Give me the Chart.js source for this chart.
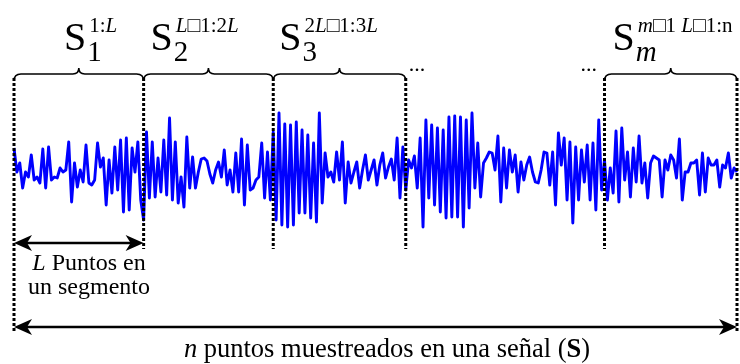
<!DOCTYPE html>
<html>
<head>
<meta charset="utf-8">
<script src="https://cdn.jsdelivr.net/npm/chart.js@4/dist/chart.umd.min.js"></script>
<style>
  html, body { margin: 0; padding: 0; background: #fff; }
  #wrap { width: 740px; height: 364px; }
</style>
</head>
<body>
<div id="wrap"><canvas id="senal"></canvas></div>
<script>
// amplitud de cada muestra de la señal S
var muestras = [
    24, 0, 9, -16, 0, -5, 17, -8, -5, -11, 23, -16, 25, -8, -5, -6, 4, 0, 2, 30,
    -30, 9, -15, 2, -10, 27, -11, -13, -8, 29, 5, 14, -33, 12, -21, 25, -18, 32, -40, 34,
    -38, 24, 0, 30, -28, -48, 40, -26, 30, -25, 14, -20, 32, -23, 54, -28, 30, -31, -5, -35,
    35, -16, 15, -16, 0, 13, 14, 11, -2, -11, 2, 10, -5, 22, -13, 2, -20, 19, -20, 33, -33, 27,
    -18, -16, -8, -5, 29, -26, 20, -28, 40, -48, 59, -53, 48, -55, 47, -53, 50, -41, 42, -41,
    37, -46, 29, -50, 59, -31, 19, -5, 0, -10, 20, -8, 30, -31, 10, -11, 0, 10, -16, 2, 17, -8, 2, 12,
    -13, 7, 19, -6, 5, 13, -8, 34, -26, 25, -18, 12, 4, 16, -16, 34, -55, 52, -26, 47,
    -33, 44, -40, 42, -46, 55, -45, 56, -45, 55, -55, 52, -36, 59, -16, 29, -25, 9, 14, 20, 19, 2, 36, -30, 24,
    -16, 22, 0, 17, -20, 10, -8, 7, 15, 0, -10, -11, 2, 20, 19, -13, 20, -33, 39, 7,
    34, -28, 30, -51, 25, -28, 22, -10, 27, -28, 29, -38, 52, -18, 12, -28, 4, -21, 41, -30, 44, -8, 20,
    -25, 24, -10, 36, -11, 9, -26, 9, 16, 14, 12, -25, 12, 2, 17, 12, -6, 33, -28, 0,
    0, 9, 9, 12, -23, 19, -20, 14, 7, 7, 12, -15, 7, 4, 19, -6, 4, 0
];

// índices de muestra que separan los segmentos
var limites = [0, 45, 90, 136, 205, 251];

// segmentos que llevan llave y rótulo
var conLlave = [0, 1, 2, 4];

// rótulos: trozos [texto, estilo]
var subindices = [
    [['1', '']],
    [['2', '']],
    [['3', '']],
    [['m', 'italic ']]
];
var superindices = [
    [['1:', ''], ['L', 'italic ']],
    [['L', 'italic '], ['\u25A1', ''], ['1:2', ''], ['L', 'italic ']],
    [['2', ''], ['L', 'italic '], ['\u25A1', ''], ['1:3', ''], ['L', 'italic ']],
    [['m', 'italic '], ['\u25A1', ''], ['1 ', ''], ['L', 'italic '], ['\u25A1', ''], ['1:n', '']]
];
var textoSegmento = [['L', 'italic '], [' Puntos en', '']];
var textoSegmento2 = [['un segmento', '']];
var textoTotal = [['n', 'italic '], [' puntos muestreados en una se\u00f1al (', ''], ['S', 'bold '], [')', '']];

var FUENTE = '"Liberation Serif", "Times New Roman", serif';

function ancho(ctx, trozos, tam) {
    var w = 0;
    trozos.forEach(function (t) {
        ctx.font = t[1] + tam + 'px ' + FUENTE;
        w += ctx.measureText(t[0]).width;
    });
    return w;
}

function escribir(ctx, trozos, x, y, tam) {
    trozos.forEach(function (t) {
        ctx.font = t[1] + tam + 'px ' + FUENTE;
        ctx.fillText(t[0], x, y);
        x += ctx.measureText(t[0]).width;
    });
    return x;
}

function llave(ctx, xa, xb, y) {
    var xc = (xa + xb) / 2;
    ctx.beginPath();
    ctx.moveTo(xa, y + 7);
    ctx.quadraticCurveTo(xa, y, xa + 7, y);
    ctx.lineTo(xc - 6, y);
    ctx.quadraticCurveTo(xc, y, xc, y - 6);
    ctx.quadraticCurveTo(xc, y, xc + 6, y);
    ctx.lineTo(xb - 7, y);
    ctx.quadraticCurveTo(xb, y, xb, y + 7);
    ctx.stroke();
}

function punta(ctx, x, y, dir) {
    ctx.beginPath();
    ctx.moveTo(x, y);
    ctx.lineTo(x - dir * 18, y - 8);
    ctx.lineTo(x - dir * 13, y);
    ctx.lineTo(x - dir * 18, y + 8);
    ctx.closePath();
    ctx.fill();
}

function flecha(ctx, xa, xb, y, doble) {
    ctx.beginPath();
    ctx.moveTo(xa + (doble ? 12 : 0), y);
    ctx.lineTo(xb - 12, y);
    ctx.stroke();
    punta(ctx, xb, y, 1);
    if (doble) punta(ctx, xa, y, -1);
}

var anotaciones = {
    id: 'anotaciones',
    afterDatasetsDraw: function (chart) {
        var ctx = chart.ctx;
        var xs = chart.scales.x;
        var px = limites.map(function (i) { return xs.getPixelForValue(i); });
        var ult = px.length - 1;
        var desplaz = [50, 7, 6, 8];

        ctx.save();
        ctx.fillStyle = '#000';
        ctx.strokeStyle = '#000';
        ctx.textBaseline = 'alphabetic';

        // llaves y rótulos S
        ctx.lineWidth = 1.6;
        conLlave.forEach(function (s, k) {
            llave(ctx, px[s], px[s + 1], 74);
            var x0 = px[s] + desplaz[k];
            ctx.font = '40px ' + FUENTE;
            ctx.fillText('S', x0, 50);
            var x1 = x0 + ctx.measureText('S').width + 1;
            escribir(ctx, subindices[k], x1, 61, 29);
            escribir(ctx, superindices[k], x1 + 2, 32, 21);
        });

        // puntos suspensivos entre segmentos
        ctx.font = '22px ' + FUENTE;
        ctx.fillText('...', px[3] + 3, 71);
        ctx.fillText('...', px[4] - 24, 71);

        // líneas punteadas de corte
        ctx.lineWidth = 3;
        ctx.setLineDash([3, 2]);
        px.forEach(function (x, i) {
            var fin = (i === 0 || i === ult) ? 331 : 249;
            ctx.beginPath();
            ctx.moveTo(x, 78);
            ctx.lineTo(x, fin);
            ctx.stroke();
        });
        ctx.setLineDash([]);

        // flechas de longitud
        ctx.lineWidth = 2.6;
        flecha(ctx, px[0], px[1], 243, true);
        flecha(ctx, px[0], px[ult], 327, true);

        var cx = px[0] + 75;
        escribir(ctx, textoSegmento, cx - ancho(ctx, textoSegmento, 24) / 2, 270, 24);
        escribir(ctx, textoSegmento2, cx - ancho(ctx, textoSegmento2, 24) / 2, 294, 24);
        escribir(ctx, textoTotal, 387 - ancho(ctx, textoTotal, 26.5) / 2, 357, 26.5);
        ctx.restore();
    }
};

new Chart(document.getElementById('senal'), {
    type: 'line',
    data: {
        labels: muestras.map(function (v, i) { return i; }),
        datasets: [{
            data: muestras,
            borderColor: '#0000ff',
            borderWidth: 2.9,
            borderJoinStyle: 'round',
            pointRadius: 0,
            tension: 0,
            fill: false
        }]
    },
    options: {
        responsive: true,
        maintainAspectRatio: false,
        animation: false,
        devicePixelRatio: 1,
        layout: { padding: { left: 14, right: 3, top: 100, bottom: 120 } },
        plugins: { legend: { display: false }, tooltip: { enabled: false } },
        scales: {
            x: { display: false, offset: false },
            y: { display: false, min: -72, max: 72 }
        }
    },
    plugins: [anotaciones]
});
</script>
</body>
</html>
